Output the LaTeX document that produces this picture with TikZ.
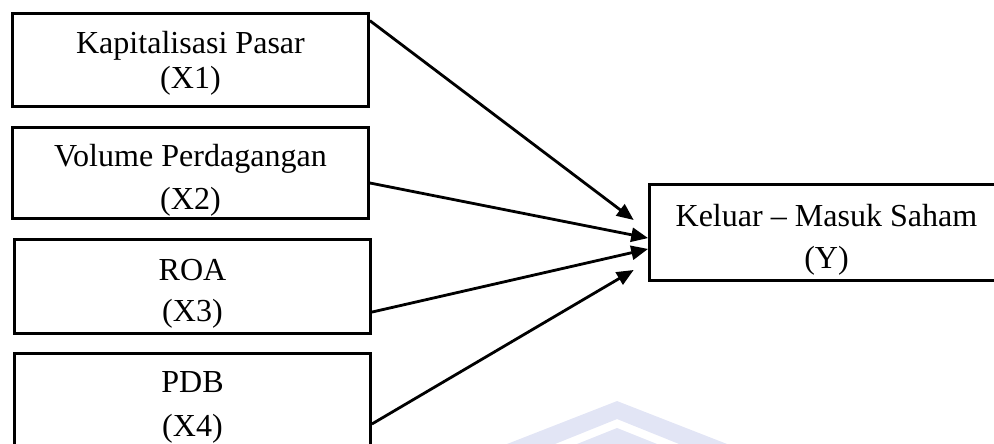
\documentclass[tikz,border=0pt]{standalone}
\usepackage{fontspec}
\setmainfont{Liberation Serif}
\usetikzlibrary{arrows.meta}

\newcommand{\topstrut}[1][13pt]{\rule{0pt}{#1}}

\begin{document}
\begin{tikzpicture}[box/.style={rectangle, draw, line width=1pt, inner sep=0pt, align=center,
    minimum width=4.45cm, minimum height=1.16cm,
    font=\fontsize{11.4pt}{12.45pt}\selectfont}]
    \useasboundingbox (0,0) rectangle (12.425,-5.55);

    % watermark in the background
    \fill [color={rgb,255:red,226;green,229;blue,245}]
      (7.713,-5.013) -- (6.338,-5.55) -- (6.938,-5.55) -- (7.713,-5.238)
      -- (8.488,-5.55) -- (9.088,-5.55) -- cycle;
    \fill [color={rgb,255:red,226;green,229;blue,245}]
      (7.713,-5.35) -- (7.213,-5.55) -- (8.213,-5.55) -- cycle;

    \begin{scope}[every node/.style={box}]
      \node (x1) at (2.381,-0.75) {\topstrut[10pt]Kapitalisasi Pasar\\(X1)};
      \node [minimum height=1.1375cm] (x2) at (2.381,-2.1625) {\topstrut Volume Perdagangan\\[2.85pt](X2)};
      \node [minimum height=1.175cm] (x3) at (2.406,-3.581) {\topstrut ROA\\[2.1pt](X3)};
      \node (x4) at (2.406,-5.0) {\topstrut PDB\\[3.2pt](X4)};
      \node [minimum width=4.425cm, minimum height=1.2cm] (y) at (10.331,-2.906) {\topstrut Keluar – Masuk Saham\\[2.5pt](Y)};
    \end{scope}

    \begin{scope}[-{Triangle[length=6pt,width=5pt]}, line width=1pt]
      \draw ([yshift=-0.106cm]x1.north east) to ([xshift=-0.18cm,yshift=0.156cm]y.west);
      \draw ([yshift=-0.125cm]x2.east) to ([yshift=-0.07cm]y.west);
      \draw ([yshift=-0.32cm]x3.east) to ([yshift=-0.206cm]y.west);
      \draw ([yshift=-0.3cm]x4.east) to ([xshift=-0.18cm,yshift=-0.469cm]y.west);
    \end{scope}
\end{tikzpicture}
\end{document}
